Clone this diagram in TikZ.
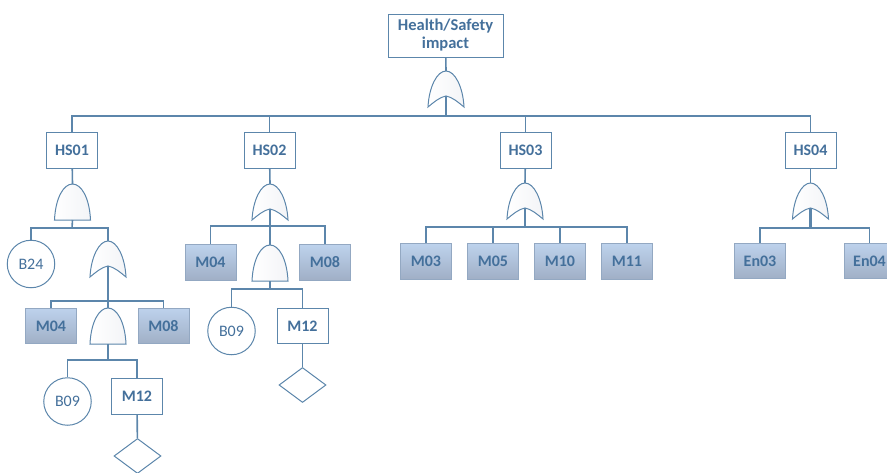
\documentclass[tikz,border=0pt]{standalone}
\usepackage{fontspec}
\setmainfont{Carlito}
\usetikzlibrary{shapes.geometric,shadows}
\definecolor{edgeblue}{HTML}{5C86AB}
\definecolor{textblue}{HTML}{44709B}
\definecolor{basictop}{HTML}{BDD2EC}
\definecolor{basicbot}{HTML}{A0AFC6}
\definecolor{basicline}{HTML}{93A8C2}
\definecolor{gateside}{HTML}{F3F4F7}
\tikzset{
  label text/.style={text=textblue, font=\fontsize{16}{18}\selectfont\bfseries, align=center, inner sep=0pt},
  event/.style={label text, rectangle, draw=edgeblue, line width=1pt, minimum width=51pt, minimum height=35.5pt,
    top color=white, bottom color=white},
  basic/.style={label text, rectangle, draw=basicline, line width=1pt, minimum width=51pt, minimum height=35.5pt,
    top color=basictop, bottom color=basicbot,
    general shadow={fill=edgeblue, opacity=.12, shift={(0pt,-2.5pt)}}},
  leaf/.style={circle, draw=edgeblue, line width=1pt, fill=white, minimum size=47.5pt, inner sep=0pt,
    text=textblue, font=\fontsize{16}{18}\selectfont},
  undev/.style={diamond, draw=edgeblue, line width=1pt, fill=white, aspect=1.33, minimum width=47pt, minimum height=35pt, inner sep=0pt},
  wire/.style={draw=edgeblue, line width=1.6pt},
  stem/.style={draw=edgeblue, line width=2.6pt},
  orgate/.pic={
    \coordinate (-top) at (0,0);
    \coordinate (-bot) at (0,25);
    \path[draw=edgeblue, line width=1pt, left color=white, right color=gateside]
      (-18,36) .. controls (-17,16) and (-9,0) .. (0,0)
      .. controls (9,0) and (17,16) .. (18,36)
      .. controls (12,31) and (6,26) .. (0,25)
      .. controls (-6,26) and (-12,31) .. cycle;
  },
  andgate/.pic={
    \coordinate (-top) at (0,0);
    \coordinate (-bot) at (0,36);
    \path[draw=edgeblue, line width=1pt, left color=white, right color=gateside]
      (-18,36) .. controls (-17,14) and (-9,0) .. (0,0)
      .. controls (9,0) and (17,14) .. (18,36) -- cycle;
  }
}
\begin{document}
\begin{tikzpicture}[x=1pt,y=-1pt]

      \useasboundingbox (0,0) rectangle (887,472);
      \clip (0,0) rectangle (887,472);

      \coordinate (bus)   at (446,116);
      \coordinate (bus1)  at (72,228);
      \coordinate (bus11) at (108,301);
      \coordinate (bus12) at (108,360);
      \coordinate (bus2)  at (270,226);
      \coordinate (bus21) at (270,289);
      \coordinate (bus3)  at (525,227);
      \coordinate (bus4)  at (810.5,228);

      \pic (g)   at (446,71)  {orgate};
      \pic (g1)  at (72.5,184) {andgate};
      \pic (g11) at (108,241) {orgate};
      \pic (g12) at (108,308) {andgate};
      \pic (g2)  at (270,184) {orgate};
      \pic (g21) at (270,245) {andgate};
      \pic (g3)  at (525,183) {orgate};
      \pic (g4)  at (810.5,183) {orgate};

      \begin{scope}[every node/.style={event}]
        \node (hs1)  at (72,150.5)  {HS01};
        \node (hs2)  at (269.5,150.5) {HS02};
        \node (hs3)  at (525.5,150.5) {HS03};
        \node (hs4)  at (810.5,150.5) {HS04};
        \node (m12a) at (137,396.5) {M12};
        \node (m12b) at (302.5,326) {M12};
      \end{scope}
      \node[event, minimum width=115pt, minimum height=43pt, font=\fontsize{16.5}{18}\selectfont\bfseries] (top) at (445.5,35.5) {Health/Safety\\impact};

      \begin{scope}[every node/.style={basic}]
        \node (m04a) at (51,326) {M04};
        \node (m08a) at (163.5,326) {M08};
        \node (m04b) at (210.5,262.5) {M04};
        \node (m08b) at (325,262.5) {M08};
        \node (m03)  at (426,261.5) {M03};
        \node (m05)  at (493,261.5) {M05};
        \node (m10)  at (560,261.5) {M10};
        \node (m11)  at (627,261.5) {M11};
        \node (en03) at (760,261) {En03};
        \node (en04) at (869.5,261) {En04};
      \end{scope}

      \begin{scope}[every node/.style={leaf}]
        \node (b24)  at (31,264)   {B24};
        \node (b09a) at (67.5,401.5) {B09};
        \node (b09b) at (231.5,331) {B09};
      \end{scope}

      \begin{scope}[every node/.style={undev}]
        \node (d1) at (137.5,456) {};
        \node (d2) at (302.5,385) {};
      \end{scope}

      \path[wire] (top) -- (g-top);
      \path[stem] (g-bot) -- (bus);
      \path[wire] (bus) -| (hs1);
      \path[wire] (bus) -| (hs2);
      \path[wire] (bus) -| (hs3);
      \path[wire] (bus) -| (hs4);

      \path[wire] (hs1) -- (g1-top);
      \path[wire] (g1-bot) -- (bus1);
      \path[wire] (bus1) -| (b24);
      \path[wire] (bus1) -| (g11-top);
      \path[stem] (g11-bot) -- (bus11);
      \path[wire] (bus11) -| (m04a);
      \path[wire] (bus11) -| (m08a);
      \path[wire] (bus11) -- (g12-top);
      \path[wire] (g12-bot) -- (bus12);
      \path[wire] (bus12) -| (b09a);
      \path[wire] (bus12) -| (m12a);
      \path[wire] (m12a) -- (d1);

      \path[wire] (hs2) -- (g2-top);
      \path[wire] (g2-bot) -- (bus2);
      \path[wire] (bus2) -| (m04b);
      \path[wire] (bus2) -| (m08b);
      \path[wire] (bus2) -- (g21-top);
      \path[wire] (g21-bot) -- (bus21);
      \path[wire] (bus21) -| (b09b);
      \path[wire] (bus21) -| (m12b);
      \path[wire] (m12b) -- (d2);

      \path[wire] (hs3) -- (g3-top);
      \path[stem] (g3-bot) -- (bus3);
      \path[wire] (bus3) -| (m03);
      \path[wire] (bus3) -| (m05);
      \path[wire] (bus3) -| (m10);
      \path[wire] (bus3) -| (m11);

      \path[wire] (hs4) -- (g4-top);
      \path[stem] (g4-bot) -- (bus4);
      \path[wire] (bus4) -| (en03);
      \path[wire] (bus4) -| (en04);

    \end{tikzpicture}
\end{document}
